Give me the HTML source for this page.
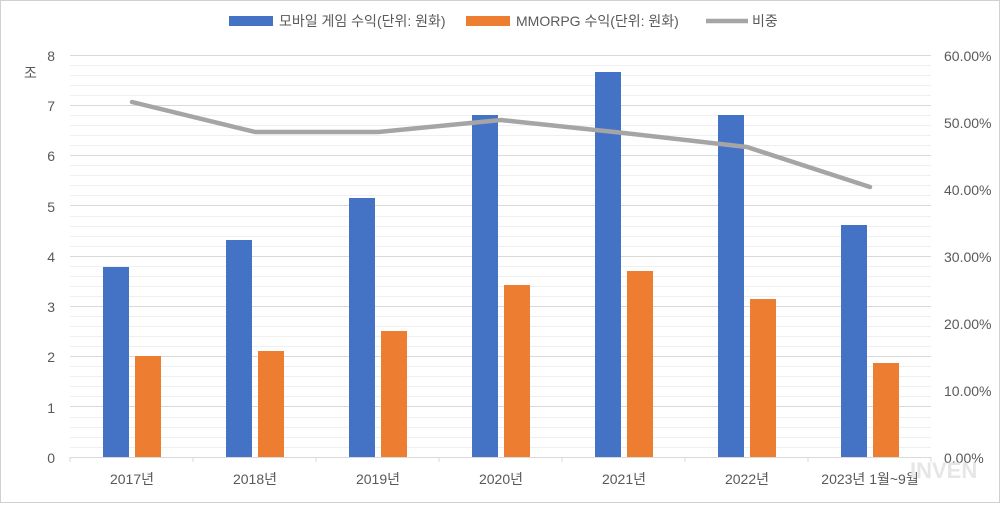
<!DOCTYPE html>
<html><head><meta charset="utf-8"><style>
body{margin:0;background:#fff}
svg text{font-family:"Liberation Sans","Noto Sans CJK KR",sans-serif;fill:#595959}
</style></head><body>
<svg width="1000" height="503" xmlns="http://www.w3.org/2000/svg">
<rect x="0.5" y="0.5" width="999" height="502" fill="#fff" stroke="#d0d0d0"/>
<g stroke="#efefef" stroke-width="1">
<line x1="70" x2="931" y1="65.5" y2="65.5"/><line x1="70" x2="931" y1="75.5" y2="75.5"/><line x1="70" x2="931" y1="85.5" y2="85.5"/><line x1="70" x2="931" y1="95.5" y2="95.5"/>
<line x1="70" x2="931" y1="115.5" y2="115.5"/><line x1="70" x2="931" y1="125.5" y2="125.5"/><line x1="70" x2="931" y1="135.5" y2="135.5"/><line x1="70" x2="931" y1="145.5" y2="145.5"/>
<line x1="70" x2="931" y1="165.5" y2="165.5"/><line x1="70" x2="931" y1="175.5" y2="175.5"/><line x1="70" x2="931" y1="185.5" y2="185.5"/><line x1="70" x2="931" y1="195.5" y2="195.5"/>
<line x1="70" x2="931" y1="216.5" y2="216.5"/><line x1="70" x2="931" y1="226.5" y2="226.5"/><line x1="70" x2="931" y1="236.5" y2="236.5"/><line x1="70" x2="931" y1="246.5" y2="246.5"/>
<line x1="70" x2="931" y1="266.5" y2="266.5"/><line x1="70" x2="931" y1="276.5" y2="276.5"/><line x1="70" x2="931" y1="286.5" y2="286.5"/><line x1="70" x2="931" y1="296.5" y2="296.5"/>
<line x1="70" x2="931" y1="316.5" y2="316.5"/><line x1="70" x2="931" y1="326.5" y2="326.5"/><line x1="70" x2="931" y1="336.5" y2="336.5"/><line x1="70" x2="931" y1="346.5" y2="346.5"/>
<line x1="70" x2="931" y1="366.5" y2="366.5"/><line x1="70" x2="931" y1="376.5" y2="376.5"/><line x1="70" x2="931" y1="386.5" y2="386.5"/><line x1="70" x2="931" y1="396.5" y2="396.5"/>
<line x1="70" x2="931" y1="417.5" y2="417.5"/><line x1="70" x2="931" y1="427.5" y2="427.5"/><line x1="70" x2="931" y1="437.5" y2="437.5"/><line x1="70" x2="931" y1="447.5" y2="447.5"/>
</g>
<g stroke="#d9d9d9" stroke-width="1">
<line x1="70" x2="931" y1="55.5" y2="55.5"/><line x1="70" x2="931" y1="105.5" y2="105.5"/><line x1="70" x2="931" y1="155.5" y2="155.5"/><line x1="70" x2="931" y1="205.5" y2="205.5"/><line x1="70" x2="931" y1="256.5" y2="256.5"/><line x1="70" x2="931" y1="306.5" y2="306.5"/><line x1="70" x2="931" y1="356.5" y2="356.5"/><line x1="70" x2="931" y1="406.5" y2="406.5"/>
</g>
<line x1="70" x2="931" y1="457.5" y2="457.5" stroke="#d9d9d9"/>
<g stroke="#d9d9d9">
<line x1="70" x2="70" y1="457" y2="462"/><line x1="193" x2="193" y1="457" y2="462"/><line x1="316" x2="316" y1="457" y2="462"/><line x1="439" x2="439" y1="457" y2="462"/><line x1="562" x2="562" y1="457" y2="462"/><line x1="685" x2="685" y1="457" y2="462"/><line x1="808" x2="808" y1="457" y2="462"/><line x1="931" x2="931" y1="457" y2="462"/>
</g>
<g fill="#4472c4">
<rect x="103" y="267" width="26" height="190"/>
<rect x="226" y="240" width="26" height="217"/>
<rect x="349" y="198" width="26" height="259"/>
<rect x="472" y="115" width="26" height="342"/>
<rect x="595" y="72" width="26" height="385"/>
<rect x="718" y="115" width="26" height="342"/>
<rect x="841" y="225" width="26" height="232"/>
</g>
<g fill="#ed7d31">
<rect x="135" y="356" width="26" height="101"/>
<rect x="258" y="351" width="26" height="106"/>
<rect x="381" y="331" width="26" height="126"/>
<rect x="504" y="285" width="26" height="172"/>
<rect x="627" y="271" width="26" height="186"/>
<rect x="750" y="299" width="26" height="158"/>
<rect x="873" y="363" width="26" height="94"/>
</g>
<polyline points="132,102 255,132 378,132 501,120 624,133 747,147 870,187" fill="none" stroke="#a5a5a5" stroke-width="4.5" stroke-linejoin="round" stroke-linecap="round"/>
<g font-size="14" text-anchor="end">
<text x="55" y="61">8</text><text x="55" y="111">7</text><text x="55" y="161">6</text><text x="55" y="212">5</text><text x="55" y="262">4</text><text x="55" y="312">3</text><text x="55" y="362">2</text><text x="55" y="413">1</text><text x="55" y="463">0</text>
</g>
<text x="24" y="78" font-size="14">조</text>
<g font-size="14">
<text x="944" y="61">60.00%</text><text x="944" y="128">50.00%</text><text x="944" y="195">40.00%</text><text x="944" y="262">30.00%</text><text x="944" y="329">20.00%</text><text x="944" y="396">10.00%</text><text x="944" y="463">0.00%</text>
</g>
<g font-size="14" text-anchor="middle">
<text x="132" y="484">2017년</text><text x="255" y="484">2018년</text><text x="378" y="484">2019년</text><text x="501" y="484">2020년</text><text x="624" y="484">2021년</text><text x="747" y="484">2022년</text><text x="870" y="484">2023년 1월~9월</text>
</g>
<text x="910" y="478" font-size="22" style="fill:#e6e6e6" font-weight="bold">INVEN</text>
<rect x="229" y="16" width="44" height="10" fill="#4472c4"/>
<text x="279" y="26" font-size="14">모바일 게임 수익(단위: 원화)</text>
<rect x="466" y="16" width="44" height="10" fill="#ed7d31"/>
<text x="516" y="26" font-size="14">MMORPG 수익(단위: 원화)</text>
<line x1="706" x2="748" y1="21" y2="21" stroke="#a5a5a5" stroke-width="4.5"/>
<text x="752" y="26" font-size="14">비중</text>
</svg>
</body></html>
